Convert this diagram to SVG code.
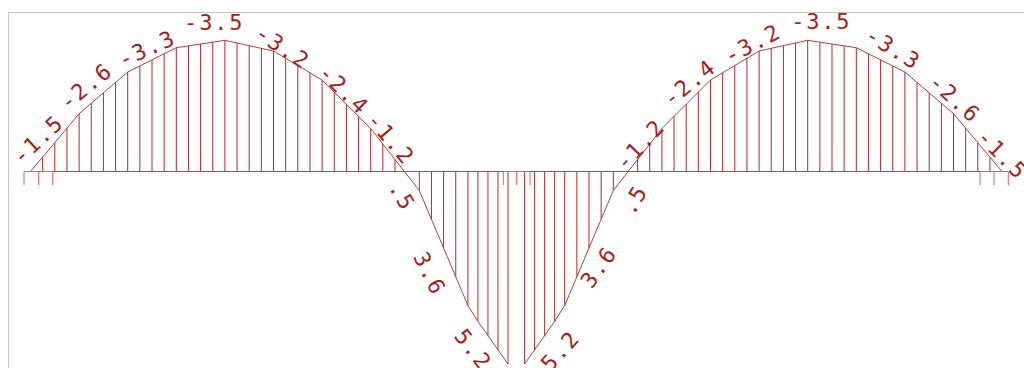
<svg xmlns="http://www.w3.org/2000/svg" xmlns:xlink="http://www.w3.org/1999/xlink" width="1024" height="368" viewBox="0 0 1024 368">
<style>
.frame{fill:none;stroke:#c8c8c8;stroke-width:1}
.curve{fill:none;stroke:#b84040;stroke-width:1}
.hatch{stroke:#b42828;stroke-width:1}
.base{stroke:#5050ff;stroke-width:1.2}
.sup{stroke:#f05a5a;stroke-width:1}
.lbl{font-family:"DejaVu Sans Mono","Liberation Mono",monospace;font-size:22px;letter-spacing:1.8px;fill:#a81c1c;text-anchor:middle}
</style>
<defs>
<g id="half">
<polyline class="curve" points="30.5,171.5 79.1,113.7 127.7,72 176.3,47.7 224.9,40.3 273.5,51 322.1,80 370.7,128.5 419.3,190.5 467.9,305.5 477.7,321 508,364"/>
<path class="hatch" d="M42.65 171.5V157.43M54.8 171.5V142.85M66.95 171.5V128.28M79.1 171.5V113.7M91.25 171.5V103.28M103.4 171.5V92.85M115.55 171.5V82.43M127.7 171.5V72M139.85 171.5V65.93M152 171.5V59.85M164.15 171.5V53.78M176.3 171.5V47.7M188.45 171.5V45.85M200.6 171.5V44M212.75 171.5V42.15M224.9 171.5V40.3M237.05 171.5V42.98M249.2 171.5V45.65M261.35 171.5V48.33M273.5 171.5V51M285.65 171.5V58.25M297.8 171.5V65.5M309.95 171.5V72.75M322.1 171.5V80M334.25 171.5V92.13M346.4 171.5V104.25M358.55 171.5V116.38M370.7 171.5V128.5M382.85 171.5V144M395 171.5V159.5M419.3 171.5V190.5M431.45 171.5V219.25M443.6 171.5V248M455.75 171.5V276.75M467.9 171.5V305.5M477.93 171.5V321.2M487.95 171.5V335.5M497.98 171.5V349.8M508 171.5V364"/>
</g>
</defs>
<rect class="frame" x="8.5" y="12.5" width="1100" height="400"/>
<g id="diagram-left">
<use xlink:href="#half" href="#half"/>
</g>
<g id="diagram-right">
<use xlink:href="#half" href="#half" transform="matrix(-1 0 0 1 1032.6 0)"/>
</g>
<g id="baseline">
<line class="base" x1="52.7" y1="171.5" x2="980" y2="171.5"/>
</g>
<g id="supports">
<path class="sup" d="M24 171.5H52.7M24 171.5V185M38.7 171.5V185M52.7 171.5V185"/>
<path class="sup" d="M503.3 171.5H530M503.3 171.5V185M516.7 171.5V185M530 171.5V185"/>
<path class="sup" d="M980 171.5H1008.3M980 171.5V185M994 171.5V185M1008.3 171.5V185"/>
</g>
<g id="labels">
<text class="lbl" x="43.3" y="144.9" transform="rotate(-42.9 43.3 144.9)">-1.5</text>
<text class="lbl" x="90.8" y="92.2" transform="rotate(-39 90.8 92.2)">-2.6</text>
<text class="lbl" x="150" y="55.6" transform="rotate(-24.2 150 55.6)">-3.3</text>
<text class="lbl" x="214.2" y="30">-3.5</text>
<text class="lbl" x="278.5" y="53.5" transform="rotate(33.6 278.5 53.5)">-3.2</text>
<text class="lbl" x="338.6" y="95.2" transform="rotate(44.4 338.6 95.2)">-2.4</text>
<text class="lbl" x="384.9" y="143.6" transform="rotate(49.6 384.9 143.6)">-1.2</text>
<text class="lbl" x="395.5" y="199.8" transform="rotate(60 395.5 199.8)">.5</text>
<text class="lbl" x="422.9" y="277" transform="rotate(63.3 422.9 277)">3.6</text>
<text class="lbl" x="467.1" y="354.1" transform="rotate(52.4 467.1 354.1)">5.2</text>
<text class="lbl" x="565.9" y="355.9" transform="rotate(-48 565.9 355.9)">5.2</text>
<text class="lbl" x="604.9" y="271.4" transform="rotate(-54.4 604.9 271.4)">3.6</text>
<text class="lbl" x="641" y="203.5" transform="rotate(-60 641 203.5)">.5</text>
<text class="lbl" x="645.8" y="149.7" transform="rotate(-46.6 645.8 149.7)">-1.2</text>
<text class="lbl" x="694.2" y="88.8" transform="rotate(-39 694.2 88.8)">-2.4</text>
<text class="lbl" x="756.2" y="50.4" transform="rotate(-27.5 756.2 50.4)">-3.2</text>
<text class="lbl" x="821.3" y="29">-3.5</text>
<text class="lbl" x="889.2" y="54.8" transform="rotate(31.6 889.2 54.8)">-3.3</text>
<text class="lbl" x="949.7" y="104.2" transform="rotate(42 949.7 104.2)">-2.6</text>
<text class="lbl" x="996.8" y="159.9" transform="rotate(45 996.8 159.9)">-1.5</text>
</g>
</svg>
